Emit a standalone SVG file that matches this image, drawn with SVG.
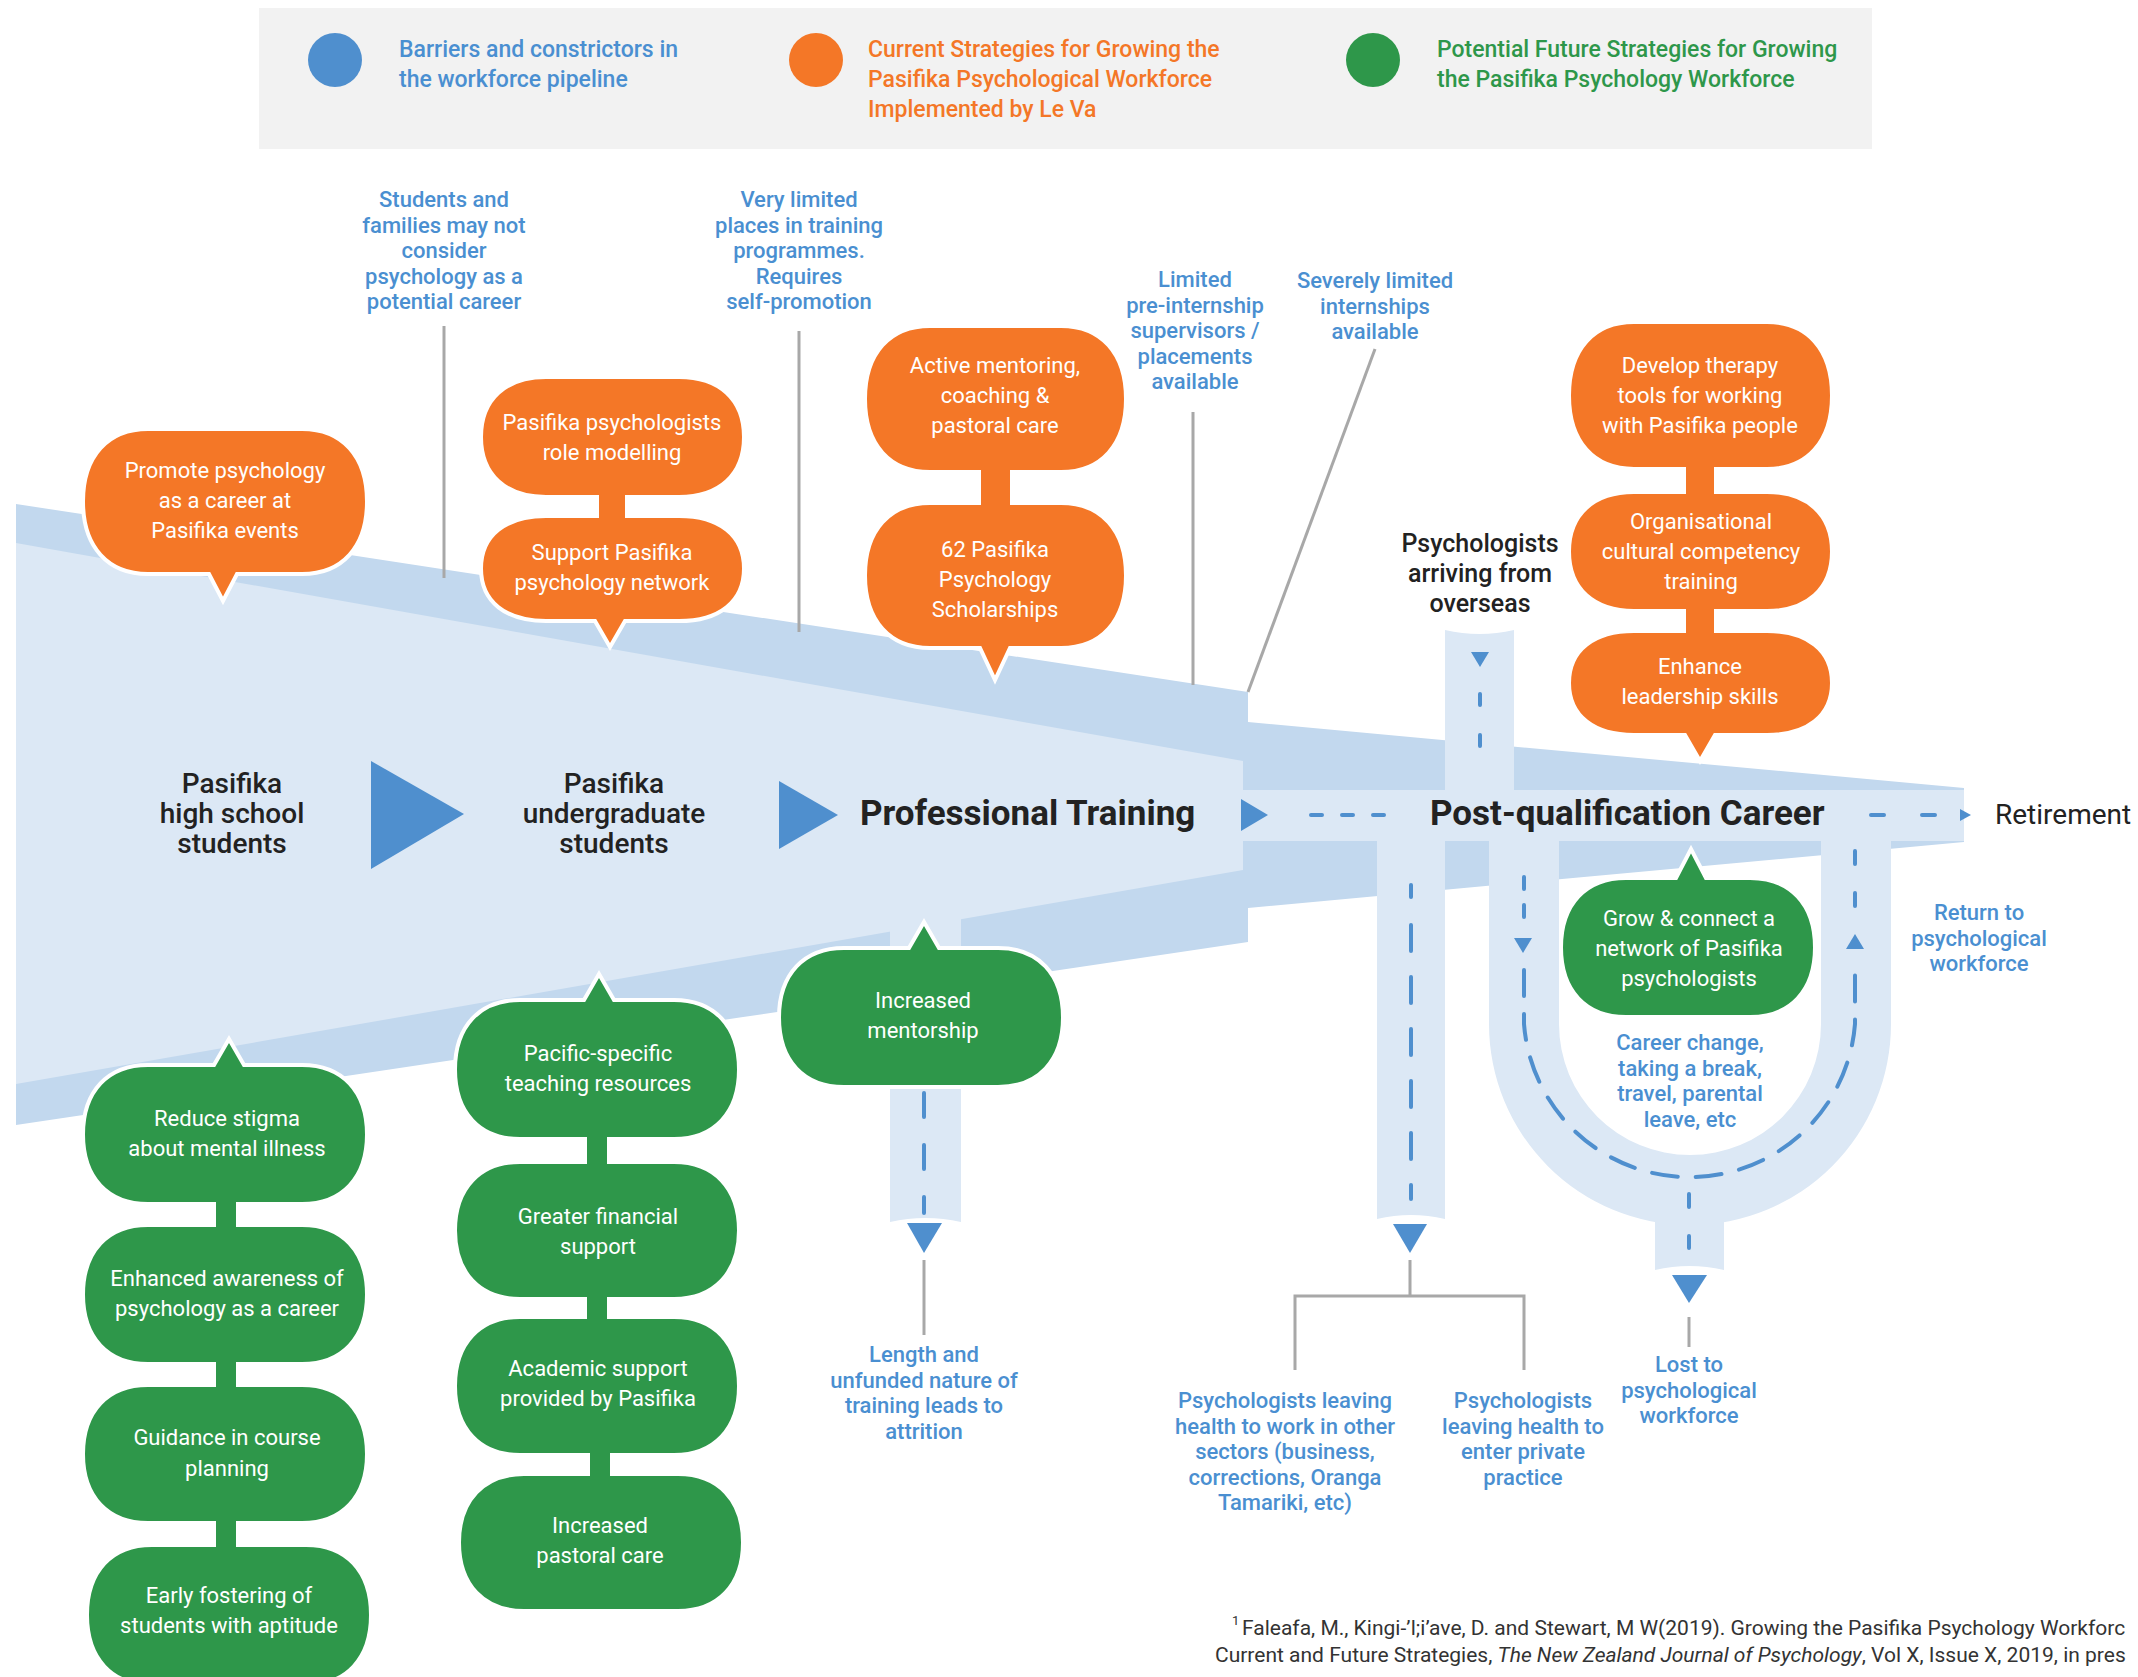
<svg xmlns="http://www.w3.org/2000/svg" width="2138" height="1677" viewBox="0 0 2138 1677">
<style>
.dark{fill:#C2D8EE}
.light{fill:#DCE8F5}
.org{fill:#F47727;stroke:#fff;stroke-width:4}
.grn{fill:#2E974A;stroke:#fff;stroke-width:4}
.oc{fill:#F47727}
.gc{fill:#2E974A}
.tri{fill:#4F8FCE}
.dash{fill:none;stroke:#4F8FCE;stroke-width:4;stroke-linecap:round}
.grey{fill:none;stroke:#A8A8A8;stroke-width:3}
text{font-family:Roboto,'Liberation Sans',sans-serif}
.nt{font-size:22px;fill:#fff;text-anchor:middle}
.bt{font-size:22px;font-weight:500;fill:#4A8FD1;text-anchor:middle}
.lt{font-size:23px;font-weight:500}
.kt{font-size:28px;font-weight:500;fill:#222;text-anchor:middle}
.kt2{font-size:25px;font-weight:500;fill:#222;text-anchor:middle}
.big{font-size:35px;font-weight:700;fill:#222}
.fn{font-size:21px;fill:#333}
.sup{font-size:13px;fill:#333}
</style>

<g id="legend">
<rect x="259" y="8" width="1613" height="141" fill="#F2F2F2"/>
<circle cx="335" cy="60" r="27" fill="#4F8FCE"/>
<circle cx="816" cy="60" r="27" fill="#F47727"/>
<circle cx="1373" cy="60" r="27" fill="#2E974A"/>
<text class="lt" fill="#4A8FD1"><tspan x="399" y="57">Barriers and constrictors in</tspan><tspan x="399" y="87">the workforce pipeline</tspan></text>
<text class="lt" fill="#F47727"><tspan x="868" y="57">Current Strategies for Growing the</tspan><tspan x="868" y="87">Pasifika Psychological Workforce</tspan><tspan x="868" y="117">Implemented by Le Va</tspan></text>
<text class="lt" fill="#2E974A"><tspan x="1437" y="57">Potential Future Strategies for Growing</tspan><tspan x="1437" y="87">the Pasifika Psychology Workforce</tspan></text>
</g>

<g id="pipeline">
<path class="dark" d="M16,504 L1248,692 L1248,942 L16,1125 Z"/>
<path class="light" d="M16,543 L1243,761 L1243,870 L16,1084 Z"/>
<path class="dark" d="M1248,722 L1964,788 L1964,842 L1248,908 Z"/>
<rect class="light" x="1243" y="790" width="721" height="51"/>
<path class="light" d="M1445,630 Q1479.5,638 1514,630 V791 H1445 Z"/>
<path class="light" d="M1377,840 H1445 V1219 Q1411,1211 1377,1219 Z"/>
<path class="light" d="M890,900 H961 V1222 Q925.5,1214 890,1222 Z"/>
<path class="light" fill-rule="evenodd" d="M1489,840 V1024 A201,201 0 0 0 1891,1024 V840 Z M1559,840 V1024 A131,131 0 0 0 1821,1024 V840 Z"/>
<path class="light" d="M1655,1200 H1724 V1270 Q1689.5,1262 1655,1270 Z"/>
</g>

<g id="connectors">
<path class="grey" d="M444,326 V578"/>
<path class="grey" d="M799,331 V632"/>
<path class="grey" d="M1193,412 V685"/>
<path class="grey" d="M1375,349 L1248,692"/>
<path class="grey" d="M924,1260 V1335"/>
<path class="grey" d="M1410,1260 V1296 M1295,1370 V1296 H1524 V1370"/>
<path class="grey" d="M1689,1317 V1347"/>
<path class="dash" stroke-dasharray="11 20" d="M1311,815 H1384"/>
<path class="dash" stroke-dasharray="13 38" d="M1871,815 H1936"/>
<path class="dash" stroke-dasharray="11 30" d="M1480,694 V748"/>
<path class="dash" d="M1411,885 V897"/>
<path class="dash" stroke-dasharray="26 26" d="M1411,925 V1199"/>
<path class="dash" stroke-dasharray="24 28" d="M924,1093 V1213"/>
<path class="dash" stroke-dasharray="12 16" d="M1524,877 V919"/>
<path class="dash" stroke-dasharray="26 18" d="M1524,970 V1024 A166,166 0 0 0 1855,1024 V972"/>
<path class="dash" stroke-dasharray="13 29" d="M1689,1194 V1248"/>
<path class="dash" stroke-dasharray="13 29" d="M1855,851 V908"/>
<path class="tri" d="M1241,799 L1241,831 L1268,815 Z"/>
<path class="tri" d="M1960,809 L1960,821 L1971,815 Z"/>
<path class="tri" d="M1471,652 L1489,652 L1480,667 Z"/>
<path class="tri" d="M907,1223 L942,1223 L924,1253 Z"/>
<path class="tri" d="M1393,1224 L1427,1224 L1410,1253 Z"/>
<path class="tri" d="M1672,1275 L1707,1275 L1689,1303 Z"/>
<path class="tri" d="M1514,938 L1532,938 L1523,953 Z"/>
<path class="tri" d="M1846,949 L1864,949 L1855,934 Z"/>
<path class="tri" d="M371,761 L371,869 L464,814 Z"/>
<path class="tri" d="M779,781 L779,849 L838,815 Z"/>
</g>

<g id="stages">
<text class="kt"><tspan x="232" y="793">Pasifika</tspan><tspan x="232" y="823">high school</tspan><tspan x="232" y="853">students</tspan></text>
<text class="kt"><tspan x="614" y="793">Pasifika</tspan><tspan x="614" y="823">undergraduate</tspan><tspan x="614" y="853">students</tspan></text>
<text class="big" x="860" y="825">Professional Training</text>
<text class="big" x="1430" y="825">Post-qualification Career</text>
<text x="1995" y="824" font-size="28" fill="#222">Retirement</text>
<text class="kt2"><tspan x="1480" y="552">Psychologists</tspan><tspan x="1480" y="582">arriving from</tspan><tspan x="1480" y="612">overseas</tspan></text>
</g>

<g id="barriers">
<text class="bt"><tspan x="444" y="207">Students and</tspan><tspan x="444" y="232.5">families may not</tspan><tspan x="444" y="258">consider</tspan><tspan x="444" y="283.5">psychology as a</tspan><tspan x="444" y="309">potential career</tspan></text>
<text class="bt"><tspan x="799" y="207">Very limited</tspan><tspan x="799" y="232.5">places in training</tspan><tspan x="799" y="258">programmes.</tspan><tspan x="799" y="283.5">Requires</tspan><tspan x="799" y="309">self-promotion</tspan></text>
<text class="bt"><tspan x="1195" y="287">Limited</tspan><tspan x="1195" y="312.5">pre-internship</tspan><tspan x="1195" y="338">supervisors /</tspan><tspan x="1195" y="363.5">placements</tspan><tspan x="1195" y="389">available</tspan></text>
<text class="bt"><tspan x="1375" y="288">Severely limited</tspan><tspan x="1375" y="313.5">internships</tspan><tspan x="1375" y="339">available</tspan></text>
<text class="bt"><tspan x="924" y="1362">Length and</tspan><tspan x="924" y="1387.5">unfunded nature of</tspan><tspan x="924" y="1413">training leads to</tspan><tspan x="924" y="1438.5">attrition</tspan></text>
<text class="bt"><tspan x="1979" y="920">Return to</tspan><tspan x="1979" y="945.5">psychological</tspan><tspan x="1979" y="971">workforce</tspan></text>
<text class="bt"><tspan x="1690" y="1050">Career change,</tspan><tspan x="1690" y="1075.5">taking a break,</tspan><tspan x="1690" y="1101">travel, parental</tspan><tspan x="1690" y="1126.5">leave, etc</tspan></text>
<text class="bt"><tspan x="1689" y="1372">Lost to</tspan><tspan x="1689" y="1397.5">psychological</tspan><tspan x="1689" y="1423">workforce</tspan></text>
<text class="bt"><tspan x="1285" y="1408">Psychologists leaving</tspan><tspan x="1285" y="1433.5">health to work in other</tspan><tspan x="1285" y="1459">sectors (business,</tspan><tspan x="1285" y="1484.5">corrections, Oranga</tspan><tspan x="1285" y="1510">Tamariki, etc)</tspan></text>
<text class="bt"><tspan x="1523" y="1408">Psychologists</tspan><tspan x="1523" y="1433.5">leaving health to</tspan><tspan x="1523" y="1459">enter private</tspan><tspan x="1523" y="1484.5">practice</tspan></text>
</g>

<g id="n-promote">
<path class="org" d="M148,429 H302 C342,429 367,456 367,501.5 C367,547 342,574 302,574 H237 L223,601 L209,574 H148 C108,574 83,547 83,501.5 C83,456 108,429 148,429 Z"/>
<text class="nt"><tspan x="225" y="478">Promote psychology</tspan><tspan x="225" y="508">as a career at</tspan><tspan x="225" y="538">Pasifika events</tspan></text>
</g>
<g id="n-rolemodel">
<path class="org" d="M546,377 H679 C719,377 744,399 744,437 C744,475 719,497 679,497 H546 C506,497 481,475 481,437 C481,399 506,377 546,377 Z"/>
<text class="nt"><tspan x="612" y="430">Pasifika psychologists</tspan><tspan x="612" y="460">role modelling</tspan></text>
</g>
<g id="n-network">
<path class="org" d="M546,516 H679 C719,516 744,535 744,568.5 C744,602 719,621 679,621 H625 L610,647 L595,621 H546 C506,621 481,602 481,568.5 C481,535 506,516 546,516 Z"/>
<text class="nt"><tspan x="612" y="560">Support Pasifika</tspan><tspan x="612" y="590">psychology network</tspan></text>
</g>
<g id="n-mentoring">
<path class="org" d="M930,326 H1061 C1101,326 1126,353 1126,399 C1126,445 1101,472 1061,472 H930 C890,472 865,445 865,399 C865,353 890,326 930,326 Z"/>
<text class="nt"><tspan x="995" y="373">Active mentoring,</tspan><tspan x="995" y="403">coaching &amp;</tspan><tspan x="995" y="433">pastoral care</tspan></text>
</g>
<g id="n-scholarships">
<path class="org" d="M930,503 H1061 C1101,503 1126,530 1126,575.5 C1126,621 1101,648 1061,648 H1010 L995,680 L980,648 H930 C890,648 865,621 865,575.5 C865,530 890,503 930,503 Z"/>
<text class="nt"><tspan x="995" y="557">62 Pasifika</tspan><tspan x="995" y="587">Psychology</tspan><tspan x="995" y="617">Scholarships</tspan></text>
</g>
<g id="n-therapy">
<path class="org" d="M1634,322 H1767 C1807,322 1832,349 1832,395.5 C1832,442 1807,469 1767,469 H1634 C1594,469 1569,442 1569,395.5 C1569,349 1594,322 1634,322 Z"/>
<text class="nt"><tspan x="1700" y="373">Develop therapy</tspan><tspan x="1700" y="403">tools for working</tspan><tspan x="1700" y="433">with Pasifika people</tspan></text>
</g>
<g id="n-cultural">
<path class="org" d="M1634,492 H1767 C1807,492 1832,514 1832,551.5 C1832,589 1807,611 1767,611 H1634 C1594,611 1569,589 1569,551.5 C1569,514 1594,492 1634,492 Z"/>
<text class="nt"><tspan x="1701" y="529">Organisational</tspan><tspan x="1701" y="559">cultural competency</tspan><tspan x="1701" y="589">training</tspan></text>
</g>
<g id="n-leadership">
<path class="org" d="M1634,631 H1767 C1807,631 1832,650 1832,683 C1832,716 1807,735 1767,735 H1715 L1700,761 L1685,735 H1634 C1594,735 1569,716 1569,683 C1569,650 1594,631 1634,631 Z"/>
<text class="nt"><tspan x="1700" y="674">Enhance</tspan><tspan x="1700" y="704">leadership skills</tspan></text>
</g>
<g id="n-grow">
<path class="grn" d="M1626,878 H1676 L1691,849 L1706,878 H1750 C1790,878 1815,904 1815,947.5 C1815,991 1790,1017 1750,1017 H1626 C1586,1017 1561,991 1561,947.5 C1561,904 1586,878 1626,878 Z"/>
<text class="nt"><tspan x="1689" y="926">Grow &amp; connect a</tspan><tspan x="1689" y="956">network of Pasifika</tspan><tspan x="1689" y="986">psychologists</tspan></text>
</g>
<g id="n-increasedmentorship">
<path class="grn" d="M844,948 H909 L924,922 L939,948 H998 C1038,948 1063,974 1063,1017.5 C1063,1061 1038,1087 998,1087 H844 C804,1087 779,1061 779,1017.5 C779,974 804,948 844,948 Z"/>
<text class="nt"><tspan x="923" y="1008">Increased</tspan><tspan x="923" y="1038">mentorship</tspan></text>
</g>
<g id="n-teaching">
<path class="grn" d="M520,1000 H584 L599,974 L614,1000 H674 C714,1000 739,1026 739,1069.5 C739,1113 714,1139 674,1139 H520 C480,1139 455,1113 455,1069.5 C455,1026 480,1000 520,1000 Z"/>
<text class="nt"><tspan x="598" y="1061">Pacific-specific</tspan><tspan x="598" y="1091">teaching resources</tspan></text>
</g>
<g id="n-financial">
<path class="grn" d="M520,1162 H674 C714,1162 739,1188 739,1230.5 C739,1273 714,1299 674,1299 H520 C480,1299 455,1273 455,1230.5 C455,1188 480,1162 520,1162 Z"/>
<text class="nt"><tspan x="598" y="1224">Greater financial</tspan><tspan x="598" y="1254">support</tspan></text>
</g>
<g id="n-academic">
<path class="grn" d="M520,1317 H674 C714,1317 739,1343 739,1386 C739,1429 714,1455 674,1455 H520 C480,1455 455,1429 455,1386 C455,1343 480,1317 520,1317 Z"/>
<text class="nt"><tspan x="598" y="1376">Academic support</tspan><tspan x="598" y="1406">provided by Pasifika</tspan></text>
</g>
<g id="n-pastoral">
<path class="grn" d="M524,1474 H678 C718,1474 743,1500 743,1542.5 C743,1585 718,1611 678,1611 H524 C484,1611 459,1585 459,1542.5 C459,1500 484,1474 524,1474 Z"/>
<text class="nt"><tspan x="600" y="1533">Increased</tspan><tspan x="600" y="1563">pastoral care</tspan></text>
</g>
<g id="n-stigma">
<path class="grn" d="M148,1065 H214 L229,1039 L244,1065 H302 C342,1065 367,1091 367,1134.5 C367,1178 342,1204 302,1204 H148 C108,1204 83,1178 83,1134.5 C83,1091 108,1065 148,1065 Z"/>
<text class="nt"><tspan x="227" y="1126">Reduce stigma</tspan><tspan x="227" y="1156">about mental illness</tspan></text>
</g>
<g id="n-awareness">
<path class="grn" d="M148,1225 H302 C342,1225 367,1251 367,1294.5 C367,1338 342,1364 302,1364 H148 C108,1364 83,1338 83,1294.5 C83,1251 108,1225 148,1225 Z"/>
<text class="nt"><tspan x="227" y="1286">Enhanced awareness of</tspan><tspan x="227" y="1316">psychology as a career</tspan></text>
</g>
<g id="n-guidance">
<path class="grn" d="M148,1385 H302 C342,1385 367,1411 367,1454 C367,1497 342,1523 302,1523 H148 C108,1523 83,1497 83,1454 C83,1411 108,1385 148,1385 Z"/>
<text class="nt"><tspan x="227" y="1445">Guidance in course</tspan><tspan x="227" y="1476">planning</tspan></text>
</g>
<g id="n-fostering">
<path class="grn" d="M152,1545 H306 C346,1545 371,1571 371,1615 C371,1659 346,1685 306,1685 H152 C112,1685 87,1659 87,1615 C87,1571 112,1545 152,1545 Z"/>
<text class="nt"><tspan x="229" y="1603">Early fostering of</tspan><tspan x="229" y="1633">students with aptitude</tspan></text>
</g>

<g id="links">
<rect class="oc" x="599" y="494" width="26" height="25"/>
<rect class="oc" x="981" y="469" width="29" height="37"/>
<rect class="oc" x="1686" y="466" width="28" height="29"/>
<rect class="oc" x="1686" y="608" width="28" height="26"/>
<rect class="gc" x="216" y="1201" width="20" height="27"/>
<rect class="gc" x="216" y="1361" width="20" height="27"/>
<rect class="gc" x="216" y="1520" width="20" height="28"/>
<rect class="gc" x="587" y="1136" width="20" height="29"/>
<rect class="gc" x="587" y="1296" width="20" height="24"/>
<rect class="gc" x="590" y="1452" width="20" height="25"/>
</g>

<g id="footnote">
<text class="sup" x="1232" y="1625">1</text>
<text class="fn" x="1242" y="1635">Faleafa, M., Kingi-’l;i’ave, D. and Stewart, M W(2019). Growing the Pasifika Psychology Workforc</text>
<text class="fn" x="1215" y="1662">Current and Future Strategies, <tspan font-style="italic">The New Zealand Journal of Psychology</tspan>, Vol X, Issue X, 2019, in pres</text>
</g>
</svg>
